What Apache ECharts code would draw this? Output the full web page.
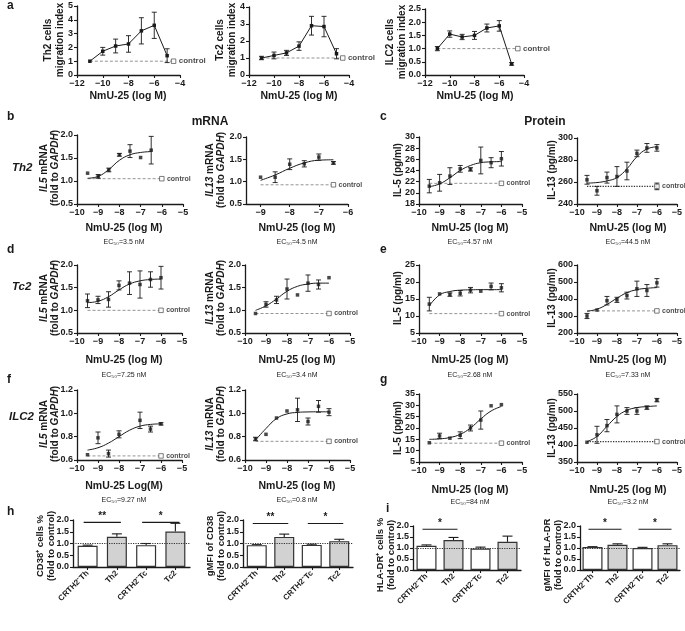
<!DOCTYPE html>
<html><head><meta charset="utf-8">
<script src="https://cdn.jsdelivr.net/npm/echarts@6/dist/echarts.min.js"></script>
<style>html,body{margin:0;padding:0;background:#fff}#c{width:685px;height:631px}</style>
</head><body><div id="c"></div>
<script>
// ---------- DATA ----------
const aDoses = [-11, -10, -9, -8, -7, -6, -5];
const aTh2Mean = [1.0, 1.72, 2.1, 2.25, 3.2, 3.6, 1.4];
const aTh2Err = [0, 0.28, 0.5, 0.6, 0.95, 0.95, 0.5];
const aTc2Mean = [1.0, 1.15, 1.3, 1.7, 2.9, 2.85, 1.25];
const aTc2Err = [0.1, 0.2, 0.15, 0.25, 0.55, 0.6, 0.3];
const aIlc2Mean = [1.0, 1.55, 1.44, 1.5, 1.78, 1.86, 0.42];
const aIlc2Err = [0.08, 0.12, 0.1, 0.15, 0.15, 0.2, 0.05];
const aControl = 1.0;

const doses = [-9.5, -9, -8.5, -8, -7.5, -7, -6.5, -6];
const bDosesIL5 = [-9.5, -9, -8.5, -8, -7.5, -7, -6.5];
const bTh2IL5Mean = [1.17, 1.1, 1.24, 1.57, 1.65, 1.51, 1.67];
const bTh2IL5Err = [0, 0.04, 0.04, 0.03, 0.14, 0, 0.3];
const bTh2IL5Curve = [1.06, 1.1, 1.25, 1.45, 1.57, 1.62, 1.64];
const bTh2IL5Control = 1.05;
const bDosesIL13 = [-9, -8.5, -8, -7.5, -7, -6.5];
const bTh2IL13Mean = [1.1, 1.1, 1.39, 1.4, 1.55, 1.42];
const bTh2IL13Err = [0, 0.12, 0.12, 0.07, 0.07, 0.03];
const bTh2IL13Curve = [1.03, 1.15, 1.3, 1.42, 1.48, 1.49];
const bTh2IL13Control = 0.93;

const cTh2IL5Mean = [21.2, 21.8, 23.0, 24.3, 24.2, 25.8, 25.4, 26.1];
const cTh2IL5Err = [1.2, 1.5, 1.5, 0.6, 0.3, 2.4, 0.9, 1.3];
const cTh2IL5Curve = [21.1, 21.6, 22.7, 24.0, 24.9, 25.4, 25.55, 25.6];
const cTh2IL5Control = 21.7;
const cTh2IL13Mean = [262, 252, 264, 265, 270, 286, 291, 291];
const cTh2IL13Err = [4, 4, 5, 9, 8, 3, 4, 3];
const cTh2IL13Curve = [259, 259.5, 261, 264, 272, 283, 290, 292];
const cTh2IL13Control = 256;
const cTh2IL13ControlErr = 3;

const dTc2IL5Mean = [1.21, 1.23, 1.24, 1.55, 1.6, 1.57, 1.68, 1.72];
const dTc2IL5Err = [0.15, 0.08, 0.17, 0.1, 0.25, 0.3, 0.17, 0.25];
const dTc2IL5Curve = [1.17, 1.2, 1.3, 1.45, 1.58, 1.65, 1.68, 1.69];
const dTc2IL5Control = 1.0;
const dTc2IL13Mean = [0.93, 1.13, 1.23, 1.47, 1.34, 1.6, 1.57, 1.72];
const dTc2IL13Err = [0, 0.06, 0.08, 0.22, 0, 0.18, 0.1, 0];
const dTc2IL13Curve = [1.0, 1.1, 1.25, 1.42, 1.53, 1.58, 1.6, 1.6];
const dTc2IL13Control = 0.93;

const eTc2IL5Mean = [13.5, 16.5, 16.3, 16.7, 17.6, 17.3, 18.7, 18.3];
const eTc2IL5Err = [2, 0, 0.5, 0.8, 0.8, 0, 1, 1.2];
const eTc2IL5Curve = [13.0, 16.2, 17.2, 17.6, 17.7, 17.75, 17.75, 17.75];
const eTc2IL5Control = 10.7;
const eTc2IL13Mean = [300, 335, 390, 395, 420, 460, 450, 495];
const eTc2IL13Err = [15, 0, 25, 15, 20, 45, 35, 25];
const eTc2IL13Curve = [328, 340, 368, 405, 437, 455, 463, 467];
const eTc2IL13Control = 330;

const fDosesIL5 = [-9.5, -9, -8.5, -8, -7, -6.5, -6];
const fIlc2IL5Mean = [0.645, 0.79, 0.655, 0.82, 0.94, 0.865, 0.91];
const fIlc2IL5Err = [0, 0.05, 0.03, 0.03, 0.07, 0.025, 0.01];
const fIlc2IL5Curve = [0.685, 0.705, 0.745, 0.8, 0.855, 0.89, 0.905, 0.91];
const fIlc2IL5Control = 0.635;
const fIlc2IL13Mean = [0.78, 0.82, 0.96, 1.02, 1.03, 0.93, 1.06, 1.01];
const fIlc2IL13Err = [0.015, 0, 0, 0, 0.1, 0.03, 0.05, 0.03];
const fIlc2IL13Curve = [0.77, 0.87, 0.955, 0.995, 1.008, 1.012, 1.013, 1.013];
const fIlc2IL13Control = 0.76;

const gIlc2IL5Mean = [13.5, 16.5, 15.5, 16.8, 20, 23.5, 29.8, 30.3];
const gIlc2IL5Err = [0, 1.2, 0, 1.5, 1.3, 4, 0, 0];
const gIlc2IL5Curve = [15, 15.2, 15.8, 17.2, 20.0, 24.0, 27.5, 29.5];
const gIlc2IL5Control = 13.3;
const gIlc2IL13Mean = [408, 430, 457, 490, 500, 500, 510, 532];
const gIlc2IL13Err = [0, 25, 18, 25, 10, 10, 5, 5];
const gIlc2IL13Curve = [410, 425, 455, 484, 502, 510, 513, 515];
const gIlc2IL13Control = 410;

const barCats = ['CRTH2\u207BTh', 'Th2', 'CRTH2\u207BTc', 'Tc2'];
const hCD38Mean = [0.9, 1.29, 0.93, 1.51];
const hCD38Err = [0.03, 0.12, 0.07, 0.35];
const hCD38Sig = [[0, 1, 1.9, 2], [2, 3, 1.9, 1]];
const hCD38gMean = [0.93, 1.28, 0.94, 1.1];
const hCD38gErr = [0.02, 0.12, 0.03, 0.08];
const hCD38gSig = [[0, 1, 1.85, 2], [2, 3, 1.85, 1]];
const iHLAMean = [1.1, 1.36, 0.98, 1.28];
const iHLAErr = [0.04, 0.12, 0.06, 0.26];
const iHLASig = [[0, 1, 1.85, 1]];
const iHLAgMean = [1.04, 1.15, 1.0, 1.13];
const iHLAgErr = [0.02, 0.04, 0.03, 0.06];
const iHLAgSig = [[0, 1, 1.85, 1], [2, 3, 1.85, 1]];

// ---------- BUILD ----------
const FONT = '"Liberation Sans", Arial, sans-serif';
const INK = '#1a1a1a';
const grids = [], xAxes = [], yAxes = [], series = [], graphics = [];

function minusFmt(dec) {
  return function (v) {
    const s = Math.abs(v).toFixed(dec);
    return v < 0 ? '\u2212' + s : s;
  };
}
function axisBase(extra) {
  return Object.assign({
    axisLine: { show: true, onZero: false, lineStyle: { color: INK, width: 1.3 } },
    axisTick: { show: true, length: 3, lineStyle: { color: INK, width: 1.1 } },
    splitLine: { show: false },
    axisLabel: { fontFamily: FONT, fontWeight: 'bold', fontSize: 9, color: INK, margin: 4 }
  }, extra);
}
function errRender(params, api) {
  const x = api.value(0), y = api.value(1), e = api.value(2);
  const p1 = api.coord([x, y + e]), p2 = api.coord([x, y - e]);
  const w = 2.5, st = { stroke: INK, lineWidth: 0.9 };
  return { type: 'group', children: [
    { type: 'line', shape: { x1: p1[0], y1: p1[1], x2: p2[0], y2: p2[1] }, style: st },
    { type: 'line', shape: { x1: p1[0] - w, y1: p1[1], x2: p1[0] + w, y2: p1[1] }, style: st },
    { type: 'line', shape: { x1: p2[0] - w, y1: p2[1], x2: p2[0] + w, y2: p2[1] }, style: st }
  ] };
}
function barErrRender(params, api) {
  const x = api.value(0), y = api.value(1), e = api.value(2);
  const p1 = api.coord([x, y + e]), p2 = api.coord([x, y]);
  const w = 5, st = { stroke: INK, lineWidth: 1.1 };
  return { type: 'group', children: [
    { type: 'line', shape: { x1: p1[0], y1: p1[1], x2: p2[0], y2: p2[1] }, style: st },
    { type: 'line', shape: { x1: p1[0] - w, y1: p1[1], x2: p1[0] + w, y2: p1[1] }, style: st }
  ] };
}
function sigRender(params, api) {
  const a = api.coord([api.value(0), api.value(2)]);
  const b = api.coord([api.value(1), api.value(2)]);
  const n = api.value(3);
  return { type: 'group', children: [
    { type: 'line', shape: { x1: a[0] - 4, y1: a[1], x2: b[0] + 4, y2: b[1] }, style: { stroke: INK, lineWidth: 1.1 } },
    { type: 'text', style: { x: (a[0] + b[0]) / 2, y: a[1] - 1, text: '*'.repeat(n), align: 'center', verticalAlign: 'bottom', font: 'bold 10px ' + FONT, fill: INK } }
  ] };
}
function text(x, y, t, size, opts) {
  opts = opts || {};
  return {
    type: 'text', x: x, y: y, rotation: opts.rot ? Math.PI / 2 : 0, silent: true,
    style: Object.assign({
      text: t, align: opts.align || 'center', verticalAlign: 'middle',
      fontFamily: FONT, fontSize: size, fontWeight: opts.weight || 'bold',
      fontStyle: opts.style || 'normal', fill: INK, lineHeight: opts.lh || size + 2,
      rich: opts.rich
    })
  };
}

function addDose(c) {
  const k = grids.length;
  grids.push({ left: c.grid[0], top: c.grid[1], width: c.grid[2], height: c.grid[3], containLabel: false });
  const xa = axisBase({ type: 'value', gridIndex: k, min: c.x[0], max: c.x[1], interval: c.x[2] });
  xa.axisLabel.formatter = minusFmt(0);
  if (c.xCustom) { xa.axisLabel.customValues = c.xCustom; xa.axisTick.customValues = c.xCustom; }
  xAxes.push(xa);
  const ya = axisBase({ type: 'value', gridIndex: k, min: c.y[0], max: c.y[1], interval: c.y[2] });
  ya.axisLabel.formatter = minusFmt(c.y[3] || 0);
  yAxes.push(ya);
  const pts = c.xs.map((x, i) => [x, c.mean[i]]);
  if (c.connect) {
    series.push({ type: 'line', xAxisIndex: k, yAxisIndex: k, data: pts, symbol: 'rect', symbolSize: 3.5,
      lineStyle: { color: INK, width: 1 }, itemStyle: { color: INK }, z: 4, silent: true, animation: false });
  } else {
    series.push({ type: 'scatter', xAxisIndex: k, yAxisIndex: k, data: pts, symbol: 'rect', symbolSize: 3.5,
      itemStyle: { color: INK }, z: 4, silent: true, animation: false });
  }
  if (c.curve) {
    series.push({ type: 'line', xAxisIndex: k, yAxisIndex: k, data: c.curveX.map((x, i) => [x, c.curve[i]]),
      smooth: 0.45, showSymbol: false, symbol: 'none', lineStyle: { color: INK, width: 1 }, z: 3, silent: true, animation: false });
  }
  series.push({ type: 'custom', xAxisIndex: k, yAxisIndex: k, renderItem: errRender, z: 3, silent: true, animation: false,
    encode: { x: 0, y: 1 },
    data: c.xs.map((x, i) => [x, c.mean[i], c.err[i]]).filter(d => d[2] > 0) });
  const ctl = c.ctl;
  series.push({ type: 'line', xAxisIndex: k, yAxisIndex: k, data: [[ctl[0], ctl[2]], [ctl[1], ctl[2]]],
    symbol: 'none', lineStyle: { color: c.ctlDot ? '#333' : '#888', width: c.ctlDot ? 1.3 : 0.9, type: c.ctlDot ? 'dotted' : [3, 2] },
    z: 2, silent: true, animation: false });
  if (ctl[3]) {
    series.push({ type: 'custom', xAxisIndex: k, yAxisIndex: k, renderItem: errRender, z: 3, silent: true, animation: false,
      encode: { x: 0, y: 1 }, data: [[ctl[1], ctl[2], ctl[3]]] });
  }
  series.push({ type: 'scatter', xAxisIndex: k, yAxisIndex: k, data: [[ctl[1], ctl[2]]], symbol: 'rect', symbolSize: 4.5,
    itemStyle: { color: '#fff', borderColor: '#333', borderWidth: 0.8 }, z: 5, silent: true, animation: false,
    label: { show: true, position: 'right', distance: 2.5, formatter: 'control', fontFamily: FONT, fontSize: c.ctlFont || 7, fontWeight: 'bold', color: INK } });
}

function addBar(c) {
  const k = grids.length;
  grids.push({ left: c.grid[0], top: c.grid[1], width: c.grid[2], height: c.grid[3], containLabel: false });
  const xa = axisBase({ type: 'category', gridIndex: k, data: barCats, boundaryGap: true });
  xa.axisTick.alignWithLabel = true;
  xa.axisLabel = { rotate: 45, interval: 0, fontFamily: FONT, fontWeight: 'bold', fontSize: 8, color: INK, margin: 5 };
  xAxes.push(xa);
  const ya = axisBase({ type: 'value', gridIndex: k, min: 0, max: 2, interval: 0.5 });
  ya.axisLabel.formatter = minusFmt(1);
  yAxes.push(ya);
  series.push({ type: 'bar', xAxisIndex: k, yAxisIndex: k, barWidth: c.bw || 20, silent: true, animation: false,
    data: c.mean.map((v, i) => ({ value: v, itemStyle: { color: i % 2 ? '#d2d2d2' : '#fff', borderColor: '#333', borderWidth: 1.2 } })),
    markLine: { silent: true, symbol: 'none', label: { show: false }, data: [{ yAxis: 1 }],
      lineStyle: { type: 'dotted', color: '#333', width: 1.2 }, animation: false }, z: 2 });
  series.push({ type: 'custom', xAxisIndex: k, yAxisIndex: k, renderItem: barErrRender, z: 1, silent: true, animation: false,
    encode: { x: 0, y: 1 }, data: c.mean.map((v, i) => [i, v, c.err[i]]) });
  series.push({ type: 'custom', xAxisIndex: k, yAxisIndex: k, renderItem: sigRender, z: 5, silent: true, animation: false,
    encode: { x: 0, y: 2 }, data: c.sig });
}

function ital(sz) { return { i: { fontStyle: 'italic', fontWeight: 'bold', fontSize: sz, fontFamily: FONT, fill: INK } }; }

// Row a
addDose({ grid: [77, 6, 103, 69], x: [-12, -4, 2], y: [0, 5, 1, 0], xs: aDoses, mean: aTh2Mean, err: aTh2Err, connect: true, ctl: [-11, -4.5, aControl], ctlFont: 8 });
addDose({ grid: [249, 7, 100, 68], x: [-12, -4, 2], y: [0, 4, 1, 0], xs: aDoses, mean: aTc2Mean, err: aTc2Err, connect: true, ctl: [-11, -4.5, aControl], ctlFont: 8 });
addDose({ grid: [425, 9, 99, 66], x: [-12, -4, 2], y: [0, 2.5, 0.5, 1], xs: aDoses, mean: aIlc2Mean, err: aIlc2Err, connect: true, ctl: [-11, -4.5, aControl], ctlFont: 8 });
// Row b/c
addDose({ grid: [77, 135, 106, 69], x: [-10, -5, 1], y: [0.5, 2.0, 0.5, 1], xs: bDosesIL5, mean: bTh2IL5Mean, err: bTh2IL5Err, curve: bTh2IL5Curve, curveX: bDosesIL5, ctl: [-9.5, -6, bTh2IL5Control] });
addDose({ grid: [246, 137, 102, 67], x: [-9.5, -6, 0.5], xCustom: [-9, -8, -7, -6], y: [0.5, 2.0, 0.5, 1], xs: bDosesIL13, mean: bTh2IL13Mean, err: bTh2IL13Err, curve: bTh2IL13Curve, curveX: bDosesIL13, ctl: [-9, -6.5, bTh2IL13Control] });
addDose({ grid: [419, 137, 103, 67], x: [-10, -5, 1], y: [18, 30, 2, 0], xs: doses, mean: cTh2IL5Mean, err: cTh2IL5Err, curve: cTh2IL5Curve, curveX: doses, ctl: [-9.5, -6, cTh2IL5Control] });
addDose({ grid: [577, 138, 100, 66], x: [-10, -5, 1], y: [240, 300, 20, 0], xs: doses, mean: cTh2IL13Mean, err: cTh2IL13Err, curve: cTh2IL13Curve, curveX: doses, ctl: [-9.5, -6, cTh2IL13Control, cTh2IL13ControlErr], ctlDot: true });
// Row d/e
addDose({ grid: [77, 265, 105, 68], x: [-10, -5, 1], y: [0.5, 2.0, 0.5, 1], xs: doses, mean: dTc2IL5Mean, err: dTc2IL5Err, curve: dTc2IL5Curve, curveX: doses, ctl: [-9.5, -6, dTc2IL5Control] });
addDose({ grid: [245, 265, 105, 68], x: [-10, -5, 1], y: [0.5, 2.0, 0.5, 1], xs: doses, mean: dTc2IL13Mean, err: dTc2IL13Err, curve: dTc2IL13Curve, curveX: doses, ctl: [-9.5, -6, dTc2IL13Control] });
addDose({ grid: [419, 265, 103, 68], x: [-10, -5, 1], y: [5, 25, 5, 0], xs: doses, mean: eTc2IL5Mean, err: eTc2IL5Err, curve: eTc2IL5Curve, curveX: doses, ctl: [-9.5, -6, eTc2IL5Control] });
addDose({ grid: [577, 265, 100, 68], x: [-10, -5, 1], y: [200, 600, 100, 0], xs: doses, mean: eTc2IL13Mean, err: eTc2IL13Err, curve: eTc2IL13Curve, curveX: doses, ctl: [-9.5, -6, eTc2IL13Control] });
// Row f/g
addDose({ grid: [77, 390, 105, 70], x: [-10, -5, 1], y: [0.6, 1.2, 0.2, 1], xs: fDosesIL5, mean: fIlc2IL5Mean, err: fIlc2IL5Err, curve: fIlc2IL5Curve, curveX: doses, ctl: [-9.5, -6, fIlc2IL5Control] });
addDose({ grid: [245, 390, 105, 70], x: [-10, -5, 1], y: [0.6, 1.2, 0.2, 1], xs: doses, mean: fIlc2IL13Mean, err: fIlc2IL13Err, curve: fIlc2IL13Curve, curveX: doses, ctl: [-9.5, -6, fIlc2IL13Control] });
addDose({ grid: [419, 394, 103, 68], x: [-10, -5, 1], y: [5, 35, 5, 0], xs: doses, mean: gIlc2IL5Mean, err: gIlc2IL5Err, curve: gIlc2IL5Curve, curveX: doses, ctl: [-9.5, -6, gIlc2IL5Control] });
addDose({ grid: [577, 394, 100, 68], x: [-10, -5, 1], y: [350, 550, 50, 0], xs: doses, mean: gIlc2IL13Mean, err: gIlc2IL13Err, curve: gIlc2IL13Curve, curveX: doses, ctl: [-9.5, -6, gIlc2IL13Control], ctlDot: true });
// Row h/i
addBar({ grid: [73, 520, 117, 47], mean: hCD38Mean, err: hCD38Err, sig: hCD38Sig });
addBar({ grid: [243, 520, 110, 47], mean: hCD38gMean, err: hCD38gErr, sig: hCD38gSig });
addBar({ grid: [413, 526, 108, 44], mean: iHLAMean, err: iHLAErr, sig: iHLASig });
addBar({ grid: [580, 526, 100, 44], mean: iHLAgMean, err: iHLAgErr, sig: iHLAgSig });

// ---------- TEXT ----------
const T = 10.5;
[['a', 7, 6], ['b', 7, 117], ['c', 380, 117], ['d', 7, 250], ['e', 380, 250], ['f', 7, 380], ['g', 380, 380], ['h', 7, 512], ['i', 386, 509]]
  .forEach(p => graphics.push(text(p[1], p[2], p[0], 12, { align: 'left' })));
graphics.push(text(210, 122, 'mRNA', 12));
graphics.push(text(545, 122, 'Protein', 12));
graphics.push(text(12, 168, 'Th2', 11.5, { align: 'left', style: 'italic' }));
graphics.push(text(12, 287, 'Tc2', 11.5, { align: 'left', style: 'italic' }));
graphics.push(text(9, 417, 'ILC2', 11.5, { align: 'left', style: 'italic' }));
// [x, y, text, fontSize, lineHeight]
const ylab = [
  [54, 40, 'Th2 cells\nmigration index', 10, 12], [226, 40, 'Tc2 cells\nmigration index', 10, 12], [396, 42, 'ILC2 cells\nmigration index', 10, 12],
  [49.5, 168, '{i|IL5} mRNA\n(fold to {i|GAPDH})', 10, 11], [216, 170, '{i|IL13} mRNA\n(fold to {i|GAPDH})', 10, 11],
  [398, 170, 'IL-5 (pg/ml)', 10, 11], [552, 170, 'IL-13 (pg/ml)', 10, 11],
  [49.5, 298, '{i|IL5} mRNA\n(fold to {i|GAPDH})', 10, 11], [216, 298, '{i|IL13} mRNA\n(fold to {i|GAPDH})', 10, 11],
  [398, 298, 'IL-5 (pg/ml)', 10, 11], [552, 298, 'IL-13 (pg/ml)', 10, 11],
  [49.5, 424, '{i|IL5} mRNA\n(fold to {i|GAPDH})', 10, 11], [216, 424, '{i|IL13} mRNA\n(fold to {i|GAPDH})', 10, 11],
  [398, 428, 'IL-5 (pg/ml)', 10, 11], [552, 428, 'IL-13 (pg/ml)', 10, 11],
  [46, 546, 'CD38\u207A cells %\n(fold to control)', 9.5, 11], [216, 546, 'gMFI of CD38\n(fold to control)', 9.5, 11],
  [386, 555, 'HLA-DR\u207A cells %\n(fold to control)', 9.5, 11], [553, 555, 'gMFI of HLA-DR\n(fold to control)', 9.5, 11]
];
ylab.forEach(l => graphics.push(text(l[0], l[1], l[2], l[3], { rot: true, lh: l[4], rich: ital(l[3]) })));
const xt = [
  [128, 96, 'NmU-25 (log M)'], [299, 96, 'NmU-25 (log M)'], [475, 96, 'NmU-25 (log M)'],
  [124, 228, 'NmU-25 (log M)'], [297, 228, 'NmU-25 (log M)'], [470, 228, 'NmU-25 (log M)'], [628, 228, 'NmU-25 (log M)'],
  [124, 360, 'NmU-25 (log M)'], [297, 360, 'NmU-25 (log M)'], [470, 360, 'NmU-25 (log M)'], [628, 360, 'NmU-25 (log M)'],
  [124, 486, 'NmU-25 Log(M)'], [297, 486, 'NmU-25 (log M)'], [470, 490, 'NmU-25 (log M)'], [628, 490, 'NmU-25 (log M)']
];
xt.forEach(l => graphics.push(text(l[0], l[1], l[2], T)));
const ec = [
  [124, 242, '3.5'], [297, 242, '4.5'], [470, 242, '4.57'], [628, 242, '44.5'],
  [124, 375, '7.25'], [297, 375, '3.4'], [470, 375, '2.68'], [628, 375, '7.33'],
  [124, 500, '9.27'], [297, 500, '0.8'], [470, 502, '84'], [628, 502, '3.2']
];
ec.forEach(l => graphics.push(text(l[0], l[1], 'EC\u2085\u2080=' + l[2] + ' nM', 7, { weight: 'normal' })));

const chart = echarts.init(document.getElementById('c'), null, { renderer: 'canvas' });
chart.setOption({
  animation: false,
  grid: grids, xAxis: xAxes, yAxis: yAxes, series: series, graphic: graphics
});
</script></body></html>
